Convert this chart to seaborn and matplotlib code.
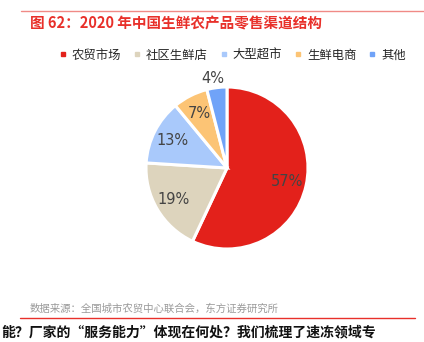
import matplotlib
matplotlib.use("Agg")
import matplotlib.pyplot as plt
import seaborn as sns

# data
channels = ["农贸市场", "社区生鲜店", "大型超市", "生鲜电商", "其他"]
shares = [57, 19, 13, 7, 4]
colors = ["#e3211b", "#ddd4bd", "#a9c9fb", "#fcc475", "#70a3f8"]

sns.set_theme(style="white")
plt.rcParams["font.family"] = ["Noto Sans CJK SC", "DejaVu Sans"]

fig = plt.figure(figsize=(4.24, 3.42), dpi=100)
W, H = 424, 342

# pie axes
ax = fig.add_axes([(227 - 81) / W, 1 - (168 + 81) / H, 162 / W, 162 / H])
wedges, texts, autotexts = ax.pie(
    shares, colors=sns.color_palette(colors), startangle=90, counterclock=False,
    autopct="%d%%", pctdistance=0.76,
    wedgeprops=dict(edgecolor="white", linewidth=2.2),
    textprops=dict(color="#444444", fontsize=10.5, family="DejaVu Sans"),
)
# small slice label sits outside
autotexts[-1].set_position((-0.17, 1.1))
autotexts[-1].set_clip_on(False)
ax.set_xlim(-1, 1)
ax.set_ylim(-1, 1)
ax.set_aspect("equal")

# header line and title
fig.add_artist(plt.Line2D([21 / W, 1], [1 - 11 / H] * 2, color="#f08a86", lw=1))
fig.text(30 / W, 1 - 23 / H, "图 62：2020 年中国生鲜农产品零售渠道结构",
         color="#e8302a", fontsize=10.5, va="center", ha="left", fontweight="bold")

# legend
handles = [plt.Line2D([], [], marker="s", ls="", color=c, markersize=3.5) for c in colors]
fig.legend(handles, channels, loc="center", bbox_to_anchor=(232 / W, 1 - 55 / H),
           ncol=5, frameon=False, fontsize=8.9, handletextpad=0.3, columnspacing=0.9,
           handlelength=0.8)

# source and footer
fig.text(30 / W, 1 - 309 / H, "数据来源：全国城市农贸中心联合会，东方证券研究所",
         color="#9a9a9a", fontsize=7.5, va="center", ha="left")
fig.add_artist(plt.Line2D([20 / W, 415 / W], [1 - 318 / H] * 2, color="#e8302a", lw=1))
fig.text(1 / W, 1 - 332 / H, "能？厂家的“服务能力”体现在何处？我们梳理了速冻领域专",
         color="#111111", fontsize=10, va="center", ha="left", fontweight="bold")

fig.savefig("out.png", dpi=100)
